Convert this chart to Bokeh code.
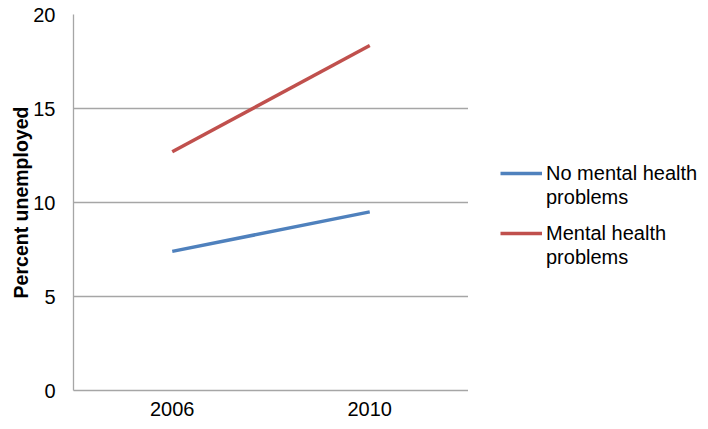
from bokeh.plotting import figure
from bokeh.layouts import row
from bokeh.models import FactorRange, Range1d, Legend, LegendItem, FixedTicker
from bokeh.embed import file_html
from bokeh.resources import INLINE

years = ["2006", "2010"]
no_mental = [7.4, 9.5]
mental = [12.7, 18.35]
y_ticks = [0, 5, 10, 15, 20]
series_names = [("No mental health", "problems"), ("Mental health", "problems")]
colors = ["#4F81BD", "#C0504D"]

FONT = "Liberation Sans"

p = figure(width=468, height=429, x_range=FactorRange(*years, range_padding=0),
           y_range=Range1d(0, 20), output_backend="svg", toolbar_location=None,
           min_border_left=73, min_border_right=0, min_border_top=14,
           min_border_bottom=39)
p.outline_line_color = None
p.background_fill_color = "white"
p.border_fill_color = "white"

r1 = p.line(years, no_mental, line_color=colors[0], line_width=3.5)
r2 = p.line(years, mental, line_color=colors[1], line_width=3.5)

p.xgrid.grid_line_color = None
p.ygrid.grid_line_color = "#a6a6a6"
p.ygrid.grid_line_width = 1.3
p.yaxis.ticker = FixedTicker(ticks=y_ticks)

for ax in (p.xaxis[0], p.yaxis[0]):
    ax.axis_line_color = "#a6a6a6"
    ax.axis_line_width = 1.3
    ax.major_tick_line_color = None
    ax.minor_tick_line_color = None
    ax.major_tick_out = 0
    ax.major_tick_in = 0
    ax.major_label_text_font = FONT
    ax.major_label_text_font_size = "20px"
    ax.major_label_text_color = "black"

p.xaxis.major_label_standoff = 11
p.yaxis.major_label_standoff = 18
p.yaxis.axis_label = "Percent unemployed"
p.yaxis.axis_label_text_font = FONT
p.yaxis.axis_label_text_font_style = "bold"
p.yaxis.axis_label_text_font_size = "19.5px"
p.yaxis.axis_label_standoff = -2
p.yaxis.axis_label_text_color = "black"

# legend panel to the right of the chart (series drawn out of view, only the legend shows)
p2 = figure(width=240, height=429, x_range=FactorRange(*years),
            y_range=Range1d(1000, 1001),
            output_backend="svg", toolbar_location=None,
            x_axis_location=None, y_axis_location=None,
            min_border_left=0, min_border_right=0, min_border_top=14, min_border_bottom=39)
p2.outline_line_color = None
p2.xgrid.visible = False
p2.ygrid.visible = False
p2.background_fill_color = "white"
p2.border_fill_color = "white"

proxy = [p2.line(years, no_mental, line_color=colors[0], line_width=3.5),
         p2.line(years, mental, line_color=colors[1], line_width=3.5)]
blank = p2.line(years, no_mental, line_alpha=0)

legend_tops = [181, 121]
for (first, second), rr, vy in zip(series_names, proxy, legend_tops):
    lg = Legend(items=[LegendItem(label=first, renderers=[rr]),
                       LegendItem(label=second, renderers=[blank])],
                location=(32, vy))
    lg.padding = 0
    lg.margin = 0
    lg.spacing = 0
    lg.border_line_color = None
    lg.background_fill_alpha = 0
    lg.glyph_width = 42
    lg.glyph_height = 24
    lg.label_height = 24
    lg.label_standoff = 4
    lg.label_text_font = FONT
    lg.label_text_font_size = "20px"
    lg.label_text_color = "black"
    p2.add_layout(lg, "center")

open("out.html", "w").write(file_html(row(p, p2), INLINE))
